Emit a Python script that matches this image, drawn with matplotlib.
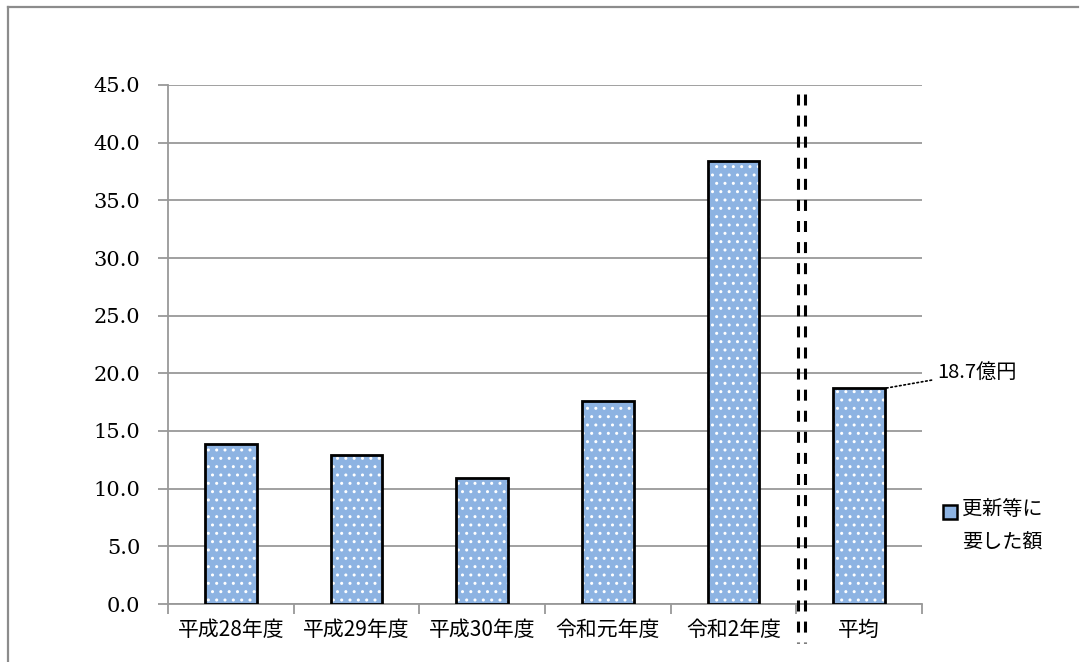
import matplotlib.pyplot as plt
from matplotlib.patches import Rectangle
from matplotlib.lines import Line2D

# 年度別の更新等に要した額（億円）と平均
years = ['平成28年度', '平成29年度', '平成30年度', '令和元年度', '令和2年度', '平均']
amounts = [13.9, 12.9, 10.9, 17.6, 38.4, 18.7]
avg_label = '18.7億円'
legend_label = '更新等に\n要した額'
yticks = [0, 5, 10, 15, 20, 25, 30, 35, 40, 45]

jp = ['Noto Sans CJK JP', 'DejaVu Sans']
bar_blue = '#8DB3E2'
grid_gray = '#999999'

W, H = 1088, 662
fig = plt.figure(figsize=(W / 100, H / 100), dpi=100)


def px(x, y):
    # pixel position -> figure fraction
    return x / W, 1 - y / H


ax = fig.add_axes([168 / W, 1 - 604 / H, (922 - 168) / W, (604 - 85) / H])

x = list(range(len(years)))
ax.bar(x, amounts, width=0.41, color=bar_blue, edgecolor='white',
       hatch='..', linewidth=0, zorder=3)
ax.bar(x, amounts, width=0.41, fill=False, edgecolor='black',
       linewidth=2.0, zorder=4)

ax.set_xlim(-0.5, len(years) - 0.5)
ax.set_ylim(0, 45)
ax.set_yticks(yticks)
ax.set_yticklabels([f'{v:.1f}' for v in yticks], family='DejaVu Serif',
                   fontsize=15)
ax.set_xticks(x)
ax.set_xticklabels(years, family=jp, fontsize=15)
ax.set_xticks([i - 0.5 for i in range(len(years) + 1)], minor=True)
ax.tick_params(axis='x', which='major', length=0, pad=11)
ax.tick_params(axis='x', which='minor', length=7, width=1.3, color=grid_gray)
ax.tick_params(axis='y', length=7, width=1.3, color=grid_gray, pad=13)

ax.grid(axis='y', color=grid_gray, linewidth=1.3, zorder=0)
ax.set_axisbelow(True)
for s in ['top', 'right']:
    ax.spines[s].set_visible(False)
for s in ['left', 'bottom']:
    ax.spines[s].set_color(grid_gray)
    ax.spines[s].set_linewidth(1.3)

# 平均の前の区切り線（二重破線）
for xd in (4.51, 4.565):
    ax.plot([xd, xd], [44.2, -3.4], color='black', linewidth=2.2,
            linestyle=(0, (3.6, 3.3)), clip_on=False, zorder=5)

# 平均値のラベル
ax.annotate(avg_label, xy=(5.205, amounts[-1]), xytext=(5.62, 20.1),
            fontsize=14.5, family=jp, va='center', ha='left',
            annotation_clip=False,
            arrowprops=dict(arrowstyle='-', linestyle=':', color='black',
                            linewidth=1.2, shrinkA=2, shrinkB=0))

# 凡例
lx, ly = px(943, 519)
fig.add_artist(Rectangle((lx, ly), 14 / W, 14 / H, transform=fig.transFigure,
                         facecolor=bar_blue, edgecolor='black', linewidth=1.8))
tx, ty = px(962, 499)
fig.text(tx, ty, legend_label, family=jp, fontsize=14.5, va='top',
         ha='left', linespacing=1.8)

# 外枠
fx0, fy0 = px(8, 7)
fx1, _ = px(1078, 7)
frame_kw = dict(color='#8C8C8C', linewidth=1.6, transform=fig.transFigure)
fig.add_artist(Line2D([fx0, fx1], [fy0, fy0], **frame_kw))
fig.add_artist(Line2D([fx0, fx0], [fy0, 0], **frame_kw))

fig.savefig('out.png', dpi=100)
